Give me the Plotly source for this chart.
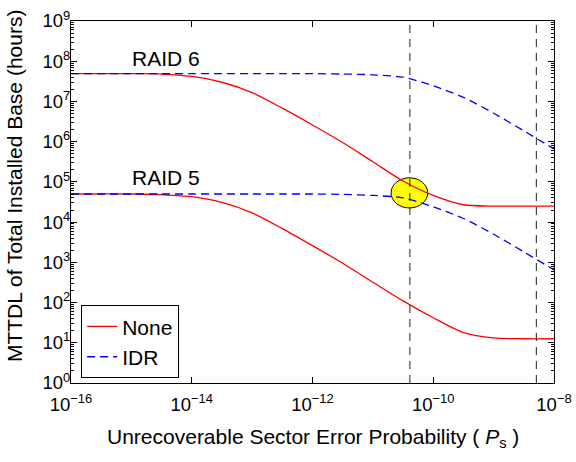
import plotly.graph_objects as go

# Sector error probability sample points
Ps = [1e-16, 1e-15, 3.16e-15, 1e-14, 3.16e-14, 1e-13, 3.16e-13, 1e-12,
      3.16e-12, 1e-11, 3.16e-11, 1e-10, 3.16e-10, 1e-9, 3.16e-9, 1e-8]

# MTTDL (hours)
raid6_none = [4.9e7, 4.9e7, 4.8e7, 4.2e7, 3.0e7, 1.66e7, 6.8e6, 2.6e6,
              9.5e5, 3.16e5, 1.05e5, 4.6e4, 2.7e4, 2.5e4, 2.5e4, 2.5e4]
raid5_none = [5.0e4, 5.0e4, 4.8e4, 4.3e4, 3.1e4, 1.7e4, 6.9e3, 2.6e3,
              9.5e2, 3.2e2, 1.1e2, 42, 18, 13.2, 12.6, 12.6]
raid6_idr = [4.9e7, 4.9e7, 4.9e7, 4.9e7, 4.9e7, 4.9e7, 4.9e7, 4.9e7,
             4.8e7, 4.6e7, 4.0e7, 2.45e7, 1.26e7, 5.1e6, 1.86e6, 6.6e5]
raid5_idr = [5.0e4, 5.0e4, 5.0e4, 5.0e4, 5.0e4, 5.0e4, 5.0e4, 5.0e4,
             4.9e4, 4.6e4, 4.0e4, 2.4e4, 1.23e4, 5.0e3, 1.82e3, 6.5e2]

# Reference vertical markers
vlines = [4.1e-11, 5.1e-9]
y_span = [1, 1e9]

# Highlight ellipse bounds
ell_x = [2.0e-11, 8.1e-11]
ell_y = [2.25e4, 1.26e5]

xtick_vals = [1e-16, 1e-14, 1e-12, 1e-10, 1e-8]
xtick_text = ["10<sup>\u221216</sup>", "10<sup>\u221214</sup>", "10<sup>\u221212</sup>",
              "10<sup>\u221210</sup>", "10<sup>\u22128</sup>"]
ytick_vals = [10 ** k for k in range(10)]
ytick_text = ["10<sup>%d</sup>" % k for k in range(10)]

RED = "#FF0000"
BLUE = "#0000FF"
FONT = "Liberation Sans, Arial, sans-serif"
TXT = 21

fig = go.Figure()

fig.add_trace(go.Scatter(x=Ps, y=raid6_none, mode="lines", name="None",
                         line=dict(color=RED, width=1.3, shape="spline", smoothing=0.8)))
fig.add_trace(go.Scatter(x=Ps, y=raid6_idr, mode="lines", name="IDR",
                         line=dict(color=BLUE, width=1.3, dash="8px,5px", shape="spline", smoothing=0.8)))
fig.add_trace(go.Scatter(x=Ps, y=raid5_none, mode="lines", showlegend=False,
                         line=dict(color=RED, width=1.3, shape="spline", smoothing=0.8)))
fig.add_trace(go.Scatter(x=Ps, y=raid5_idr, mode="lines", showlegend=False,
                         line=dict(color=BLUE, width=1.3, dash="8px,5px", shape="spline", smoothing=0.8)))

for xv in vlines:
    fig.add_trace(go.Scatter(x=[xv, xv], y=y_span, mode="lines",
                             line=dict(color="#222222", width=1, dash="8px,6px"),
                             showlegend=False, hoverinfo="skip"))

fig.add_shape(type="circle", xref="x", yref="y",
              x0=ell_x[0], x1=ell_x[1], y0=ell_y[0], y1=ell_y[1],
              fillcolor="#FFFF00", line=dict(color="black", width=1), layer="below")

fig.add_annotation(x=-14.43, y=8.08, text="RAID 6", showarrow=False,
                   font=dict(size=TXT, color="black", family=FONT))
fig.add_annotation(x=-14.43, y=5.10, text="RAID 5", showarrow=False,
                   font=dict(size=TXT, color="black", family=FONT))

# Axis titles
fig.add_annotation(xref="paper", yref="paper", x=0.5, y=-0.152, xanchor="center", yanchor="middle",
                   text="Unrecoverable Sector Error Probability ( <i>P</i><sub>s</sub> )",
                   showarrow=False, font=dict(size=TXT, color="black", family=FONT))
fig.add_annotation(xref="paper", yref="paper", x=-0.118, y=0.544, xanchor="center", yanchor="middle",
                   text="MTTDL of Total Installed Base (hours)", textangle=-90,
                   showarrow=False, font=dict(size=TXT, color="black", family=FONT))

axis_common = dict(showline=True, linecolor="black", linewidth=1, mirror="ticks",
                   ticks="inside", ticklen=6, tickcolor="black", showgrid=False,
                   zeroline=False, tickfont=dict(size=18.5, family=FONT, color="black"))

fig.update_xaxes(type="log", range=[-16, -8], tickvals=xtick_vals, ticktext=xtick_text,
                 ticklabelstandoff=5, **axis_common)
fig.update_yaxes(type="log", range=[0, 9], tickvals=ytick_vals, ticktext=ytick_text,
                 ticklabelstandoff=-4,
                 minor=dict(ticks="inside", ticklen=3, tickcolor="black", dtick="D1", showgrid=False),
                 **axis_common)

fig.update_layout(width=576, height=462,
                  margin=dict(l=71, r=22, t=21, b=79, autoexpand=False),
                  paper_bgcolor="white", plot_bgcolor="white",
                  font=dict(family=FONT, color="black"),
                  legend=dict(x=0.021, y=0.013, xanchor="left", yanchor="bottom",
                              bgcolor="white", bordercolor="black", borderwidth=1,
                              font=dict(size=TXT, family=FONT, color="black"),
                              tracegroupgap=0, itemwidth=30))

fig.write_html("out.html")
